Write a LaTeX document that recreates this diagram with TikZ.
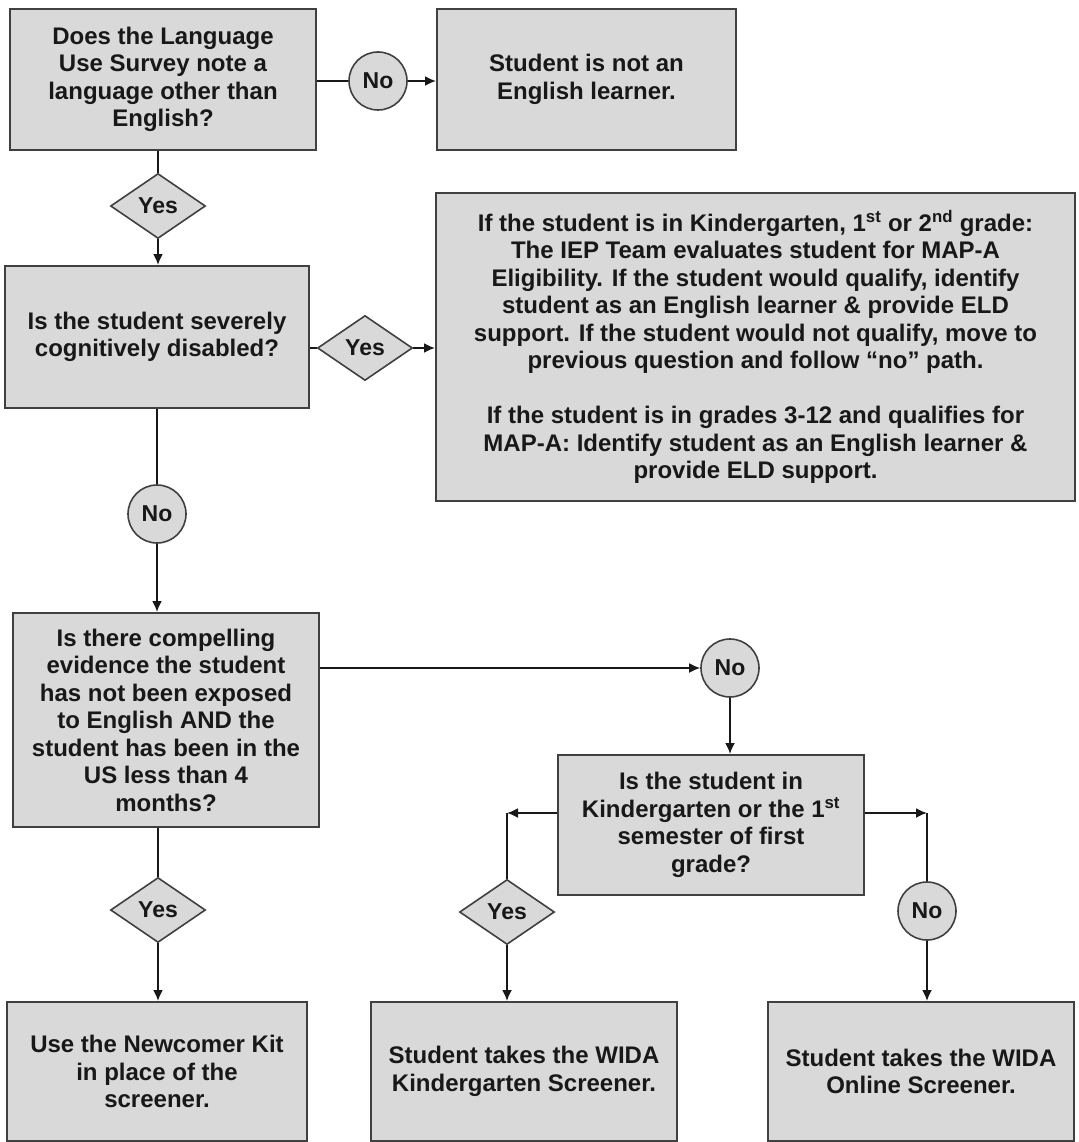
\documentclass[tikz,border=0pt]{standalone}
\usepackage{fontspec}
\setmainfont{Liberation Sans}
\usetikzlibrary{shapes.geometric,arrows.meta}
\definecolor{boxfill}{RGB}{217,217,217}
\definecolor{edge}{RGB}{64,64,64}
\definecolor{ink}{RGB}{24,24,24}
\begin{document}
\begin{tikzpicture}[x=1pt,y=-1pt,
 every node/.style={font=\fontsize{24}{27.5}\selectfont\bfseries, text=ink},
 lbl/.style={font=\fontsize{23}{27.5}\selectfont\bfseries},
 box/.style={draw=edge, line width=2pt, fill=boxfill, rectangle, align=center, inner sep=0pt},
 yesd/.style={lbl, diamond, draw=edge, line width=1.6pt, fill=boxfill, minimum width=95pt, minimum height=65pt, inner sep=0pt},
 noc/.style={lbl, circle, draw=edge, line width=1.6pt, fill=boxfill, minimum size=58pt, inner sep=0pt},
 link/.style={draw=ink, line width=1.8pt},
 arr/.style={link, -{Latex[length=11pt,width=10pt]}}
]
\useasboundingbox[fill=white] (0,0) rectangle (1078,1142);

% boxes
\node[box, minimum width=306pt, minimum height=141pt] (A) at (163,79.5)
  {Does the Language\\Use Survey note a\\language other than\\English?};
\node[box, minimum width=299pt, minimum height=141pt] (B) at (586.5,79.5)
  {Student is not an\\English learner.};
\node[box, minimum width=304pt, minimum height=142pt] (C) at (157,337)
  {Is the student severely\\cognitively disabled?};
\node[box, minimum width=639pt, minimum height=308pt] (D) at (755.5,347)
  {If the student is in Kindergarten, 1\textsuperscript{st} or 2\textsuperscript{nd} grade:\\
   The IEP Team evaluates student for MAP-A\\
   Eligibility. If the student would qualify, identify\\
   student as an English learner \& provide ELD\\
   support. If the student would not qualify, move to\\
   previous question and follow “no” path.\\[27.5pt]
   If the student is in grades 3-12 and qualifies for\\
   MAP-A: Identify student as an English learner \&\\
   provide ELD support.};
\node[box, minimum width=306pt, minimum height=214pt] (E) at (166,720)
  {Is there compelling\\evidence the student\\has not been exposed\\to English AND the\\student has been in the\\US less than 4\\months?};
\node[box, minimum width=306pt, minimum height=140pt] (F) at (711,825)
  {Is the student in\\Kindergarten or the 1\textsuperscript{st}\\semester of first\\grade?};
\node[box, minimum width=300pt, minimum height=139pt] (G) at (157,1071.5)
  {Use the Newcomer Kit\\in place of the\\screener.};
\node[box, minimum width=306pt, minimum height=139pt] (H) at (524,1071.5)
  {Student takes the WIDA\\Kindergarten Screener.};
\node[box, minimum width=306pt, minimum height=139pt] (I) at (921,1071.5)
  {Student takes the WIDA\\Online Screener.};

% decision labels
\node[noc]  (N1) at (378,81)  {No};
\node[yesd] (Y1) at (158,206) {Yes};
\node[yesd] (Y2) at (365,348) {Yes};
\node[noc]  (N2) at (157,514) {No};
\node[noc]  (N3) at (730,668) {No};
\node[yesd] (Y3) at (507,912) {Yes};
\node[noc]  (N4) at (927,911) {No};
\node[yesd] (Y4) at (158,910) {Yes};

\coordinate (L) at (507,813);
\coordinate (R) at (927,813);

% connectors
\draw[link] (A.east |- N1.west) -- (N1.west);
\draw[arr]  (N1.east) -- (N1.east -| B.west);

\draw[link] (Y1.north |- A.south) -- (Y1.north);
\draw[arr]  (Y1.south) -- (Y1.south |- C.north);

\draw[link] (C.east |- Y2.west) -- (Y2.west);
\draw[arr]  (Y2.east) -- (Y2.east -| D.west);

\draw[link] (N2.north |- C.south) -- (N2.north);
\draw[arr]  (N2.south) -- (N2.south |- E.north);

\draw[arr]  (E.east |- N3.west) -- (N3.west);
\draw[arr]  (N3.south) -- (N3.south |- F.north);

\draw[arr]  (F.west |- L) -- (L);
\draw[link] (L) -- (Y3.north);
\draw[arr]  (Y3.south) -- (Y3.south |- H.north);

\draw[arr]  (F.east |- R) -- (R);
\draw[link] (R) -- (N4.north);
\draw[arr]  (N4.south) -- (N4.south |- I.north);

\draw[link] (Y4.north |- E.south) -- (Y4.north);
\draw[arr]  (Y4.south) -- (Y4.south |- G.north);
\end{tikzpicture}
\end{document}
